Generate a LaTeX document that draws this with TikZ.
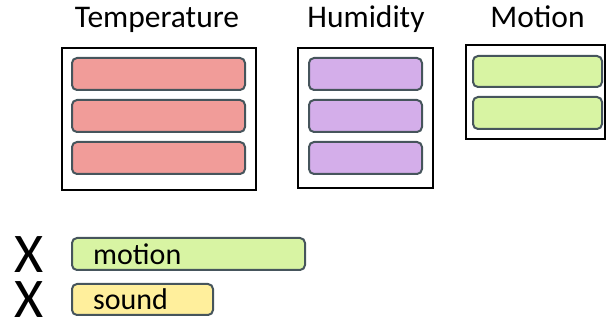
\documentclass[tikz,border=0pt]{standalone}
\usepackage{fontspec}
\setmainfont{Carlito}
\definecolor{tempfill}{HTML}{F19C99}
\definecolor{humfill}{HTML}{D4AEEA}
\definecolor{motfill}{HTML}{D8F4A3}
\definecolor{sndfill}{HTML}{FFEF9C}
\definecolor{barline}{HTML}{46555C}
\tikzset{
  bar/.style={draw=barline, line width=2pt, rounded corners=5pt, inner sep=0pt, outer sep=0pt},
  group/.style={draw=black, line width=2pt, inner sep=0pt, outer sep=0pt},
  title/.style={font=\fontsize{31.5}{34}\selectfont, anchor=base, inner sep=0pt},
  lbl/.style={font=\fontsize{30}{32}\selectfont, anchor=base west, inner sep=0pt},
  cross/.style={font=\fontsize{56}{58}\selectfont, anchor=base west, inner sep=0pt}
}
\begin{document}
\begin{tikzpicture}[x=1pt,y=-1pt]
\useasboundingbox (0,0) rectangle (606,320);
% titles
\node[title] (ttemp) at (157,28) {Temperature};
\node[title] (thum) at (366,28) {Humidity};
\node[title] (tmot) at (537.5,28) {Motion};
% group boxes
\node[group, minimum width=194pt, minimum height=142pt] (gtemp) at (159,119) {};
\node[group, minimum width=135pt, minimum height=140pt] (ghum) at (365.5,118) {};
\node[group, minimum width=139pt, minimum height=94pt] (gmot) at (535.5,92) {};
% temperature bars
\node[bar, fill=tempfill, minimum width=173pt, minimum height=32pt] (t1) at (158.5,74) {};
\node[bar, fill=tempfill, minimum width=173pt, minimum height=32pt] (t2) at (158.5,116) {};
\node[bar, fill=tempfill, minimum width=173pt, minimum height=32pt] (t3) at (158.5,158) {};
% humidity bars
\node[bar, fill=humfill, minimum width=113pt, minimum height=32pt] (h1) at (365.5,74) {};
\node[bar, fill=humfill, minimum width=113pt, minimum height=32pt] (h2) at (365.5,116) {};
\node[bar, fill=humfill, minimum width=113pt, minimum height=32pt] (h3) at (365.5,158) {};
% motion bars
\node[bar, fill=motfill, minimum width=129pt, minimum height=31pt] (m1) at (537.5,71.5) {};
\node[bar, fill=motfill, minimum width=129pt, minimum height=32pt] (m2) at (537.5,113) {};
% bottom bars
\node[bar, fill=motfill, minimum width=233pt, minimum height=32pt] (bmot) at (188.5,254) {};
\node[bar, fill=sndfill, minimum width=141pt, minimum height=31pt] (bsnd) at (142.5,299.5) {};
\node[lbl] (lmot) at (93,265) {motion};
\node[lbl] (lsnd) at (93,310) {sound};
% crosses
\node[cross] (x1) at (14,273) {X};
\node[cross] (x2) at (14,318) {X};
\end{tikzpicture}
\end{document}
